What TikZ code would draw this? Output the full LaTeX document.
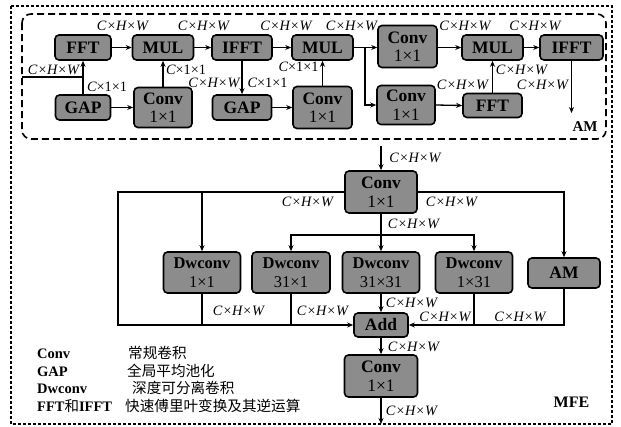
\documentclass[tikz,border=0pt]{standalone}
\usepackage{fontspec}
\setmainfont{Liberation Serif}
\newfontfamily\cjk{Noto Sans CJK SC}
\usetikzlibrary{arrows.meta}
\definecolor{boxgray}{RGB}{140,140,140}
\begin{document}
\begin{tikzpicture}[x=1pt,y=-1pt,
  blk/.style={draw, line width=1.6pt, rounded corners=4pt, fill=boxgray, inner sep=0pt, align=center, font=\fontsize{17.5}{18.5}\selectfont\bfseries},
  dwb/.style={blk, font=\fontsize{16.5}{18.5}\selectfont\bfseries},
  lbl/.style={font=\fontsize{14.3}{16}\selectfont\itshape, inner sep=0pt},
  arr/.style={line width=1.3pt, -{Stealth[length=6pt,width=5pt]}},
  ln/.style={line width=1.3pt},
  leg/.style={anchor=base west, inner sep=0pt, font=\fontsize{14.5}{16}\selectfont\bfseries},
  legc/.style={anchor=base west, inner sep=0pt, font=\cjk\fontsize{14.6}{16}\selectfont},
]
\useasboundingbox (0,0) rectangle (621,426);
% frames
\draw[line width=1.4pt, dash pattern=on 3pt off 2pt] (11,6) rectangle (612,424);
\draw[line width=1.6pt, dash pattern=on 7pt off 4pt, rounded corners=9pt] (22,14) rectangle (606,139);

% ---------- AM module ----------
\node[blk, minimum width=56pt, minimum height=25pt] (fft1) at (83,47.5) {FFT};
\node[blk, minimum width=61pt, minimum height=25pt] (mul1) at (163,47.5) {MUL};
\node[blk, minimum width=60pt, minimum height=25pt] (ifft1) at (242,47.5) {IFFT};
\node[blk, minimum width=61pt, minimum height=25pt] (mul2) at (322.5,47.5) {MUL};
\node[blk, minimum width=59pt, minimum height=42pt] (convT) at (407.5,46.5) {Conv\\{\mdseries 1×1}};
\node[blk, minimum width=61pt, minimum height=25pt] (mul3) at (492.5,47.5) {MUL};
\node[blk, minimum width=63pt, minimum height=25pt] (ifft2) at (571.5,47.5) {IFFT};

\node[blk, minimum width=55pt, minimum height=25pt] (gap1) at (83,107.5) {GAP};
\node[blk, minimum width=58pt, minimum height=40pt] (conv1) at (163,107.5) {Conv\\{\mdseries 1×1}};
\node[blk, minimum width=59pt, minimum height=25pt] (gap2) at (242,107.5) {GAP};
\node[blk, minimum width=59pt, minimum height=42pt] (conv2) at (322.5,107.5) {Conv\\{\mdseries 1×1}};
\node[blk, minimum width=58pt, minimum height=39pt] (conv3) at (406,105) {Conv\\{\mdseries 1×1}};
\node[blk, minimum width=59pt, minimum height=24pt] (fft2) at (492.5,105.5) {FFT};

\coordinate (in) at (22,77);
\coordinate (j1) at (83,77);
\coordinate (s) at (365,47.5);
\coordinate (amout) at (571.5,113);

\draw[ln] (in) -- (j1);
\draw[arr] (j1) -- (fft1.south);
\draw[ln] (j1) -- (gap1.north);
\draw[arr] (fft1.east) -- (mul1.west);
\draw[arr] (gap1.east) -- (conv1.west);
\draw[arr] (conv1.north) -- (mul1.south);
\draw[arr] (mul1.east) -- (ifft1.west);
\draw[arr] (ifft1.south) -- (gap2.north);
\draw[arr] (ifft1.east) -- (mul2.west);
\draw[arr] (gap2.east) -- (conv2.west);
\draw[arr] (conv2.north) -- (mul2.south);
\draw[ln] (mul2.east) -- (s);
\draw[arr] (s) -- (convT.west |- s);
\draw[arr] (s) |- (conv3.west);
\draw[arr] (convT.east |- mul3) -- (mul3.west);
\draw[arr] (conv3.east) -- (fft2.west);
\draw[arr] (fft2.north) -- (mul3.south);
\draw[arr] (mul3.east) -- (ifft2.west);
\draw[arr] (ifft2.south) -- (amout);

\node[lbl] at (53.5,70) {C×H×W};
\node[lbl] at (122.5,26) {C×H×W};
\node[lbl] at (203.5,26) {C×H×W};
\node[lbl] at (286,26) {C×H×W};
\node[lbl] at (351.5,26) {C×H×W};
\node[lbl] at (465,26) {C×H×W};
\node[lbl] at (535,26) {C×H×W};
\node[lbl] at (107,87) {C\upshape ×1×1};
\node[lbl] at (186,70) {C\upshape ×1×1};
\node[lbl] at (214,83) {C×H×W};
\node[lbl] at (267.5,83) {C\upshape ×1×1};
\node[lbl] at (298.5,67) {C\upshape ×1×1};
\node[lbl] at (521.5,70) {C×H×W};
\node[lbl] at (462.5,85) {C×H×W};
\node[lbl] at (542.5,85) {C×H×W};
\node[inner sep=0pt, font=\fontsize{15}{17}\selectfont\bfseries] (amlbl) at (585,127) {AM};

% ---------- MFE ----------
\node[blk, minimum width=72pt, minimum height=42pt] (convM) at (381,192) {Conv\\{\mdseries 1×1}};
\node[dwb, minimum width=77pt, minimum height=41pt] (dw1) at (202,272.5) {Dwconv\\{\mdseries 1×1}};
\node[dwb, minimum width=78pt, minimum height=41pt] (dw2) at (291,272.5) {Dwconv\\{\mdseries 31×1}};
\node[dwb, minimum width=77pt, minimum height=41pt] (dw3) at (381,272.5) {Dwconv\\{\mdseries 31×31}};
\node[dwb, minimum width=77pt, minimum height=41pt] (dw4) at (474,272.5) {Dwconv\\{\mdseries 1×31}};
\node[blk, minimum width=72pt, minimum height=30pt] (am) at (564,273) {AM};
\node[blk, minimum width=54pt, minimum height=24pt] (add) at (381,325) {Add};
\node[blk, minimum width=73pt, minimum height=42pt] (convB) at (381,376) {Conv\\{\mdseries 1×1}};

\coordinate (top) at (381,146);
\coordinate (L) at (118,192);
\coordinate (Lb) at (118,325);
\coordinate (m) at (381,235);
\coordinate (out) at (381,424);

\draw[arr] (top) -- (convM.north);
\draw[arr] (convM.west) -- (L) -- (Lb) -- (add.west);
\draw[arr] (dw1.north |- L) -- (dw1.north);
\draw[arr] (convM.east) -| (am.north);
\draw[ln] (convM.south) -- (m);
\draw[arr] (m) -| (dw2.north);
\draw[arr] (m) -| (dw4.north);
\draw[arr] (m) -- (dw3.north);
\draw[ln] (dw1.south) -- (dw1.south |- add.west);
\draw[ln] (dw2.south) -- (dw2.south |- add.west);
\draw[arr] (dw3.south) -- (add.north);
\draw[ln] (dw4.south) -- (dw4.south |- add.east);
\draw[arr] (am.south) |- (add.east);
\draw[arr] (add.south) -- (convB.north);
\draw[arr] (convB.south) -- (out);

\node[lbl] at (415,158) {C×H×W};
\node[lbl] at (307.5,202) {C×H×W};
\node[lbl] at (451.5,202) {C×H×W};
\node[lbl] at (413.5,224) {C×H×W};
\node[lbl] at (238.5,311) {C×H×W};
\node[lbl] at (322.5,311) {C×H×W};
\node[lbl] at (411.5,303) {C×H×W};
\node[lbl] at (445,317) {C×H×W};
\node[lbl] at (520,317) {C×H×W};
\node[lbl] at (413.5,347) {C×H×W};
\node[lbl] at (411.5,411) {C×H×W};
\node[inner sep=0pt, font=\fontsize{16}{18}\selectfont\bfseries] (mfe) at (571.5,402.5) {MFE};

% legend
\node[leg] (l1) at (37,358) {Conv};
\node[leg] (l2) at (37,376) {GAP};
\node[leg] (l3) at (37,393.5) {Dwconv};
\node[leg] (l4) at (37,411) {FFT{\cjk\mdseries 和}IFFT};
\node[legc] (c1) at (128,358) {常规卷积};
\node[legc] (c2) at (127,376) {全局平均池化};
\node[legc] (c3) at (132,393.5) {深度可分离卷积};
\node[legc] (c4) at (125,411) {快速傅里叶变换及其逆运算};
\end{tikzpicture}
\end{document}
